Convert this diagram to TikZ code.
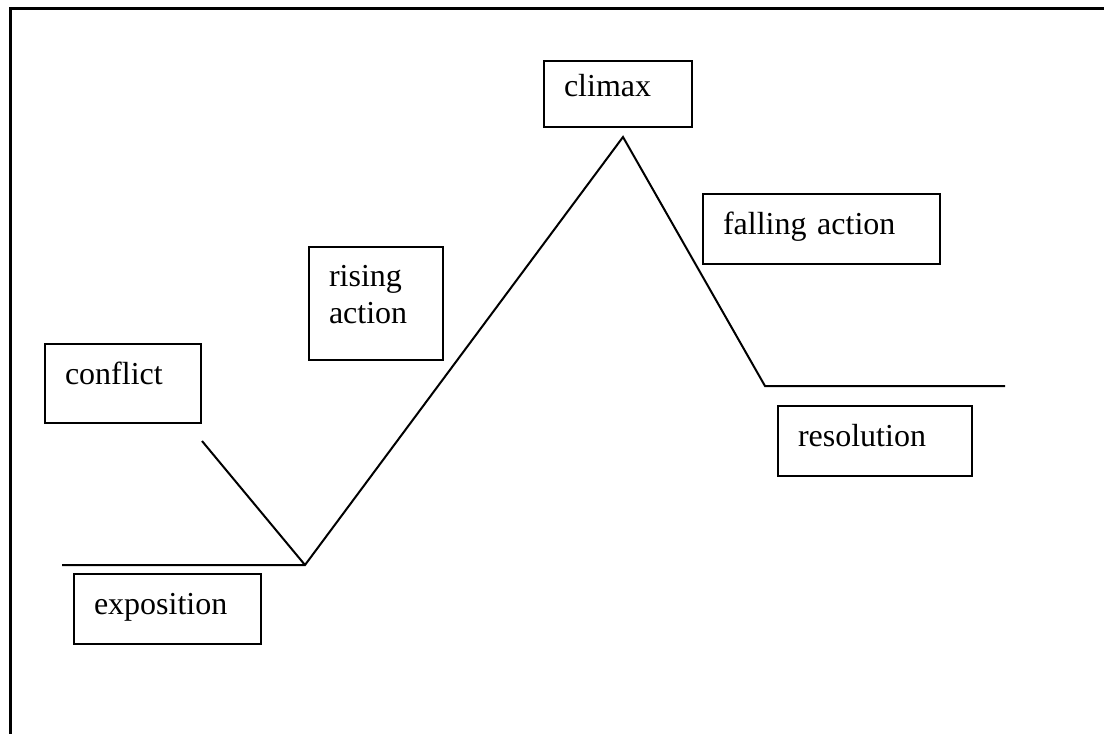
\documentclass[tikz,border=0pt]{standalone}
\usepackage{fontspec}
\setmainfont{Liberation Serif}

\tikzset{
  plotbox/.style={draw, line width=1pt, anchor=north west, align=left,
    inner xsep=10pt, inner ysep=0pt, text height=20pt, text depth=15pt,
    font=\fontsize{16}{18.5}\selectfont},
  plotline/.style={line width=1pt},
}

\begin{document}
\begin{tikzpicture}[x=0.5pt, y=-0.5pt]
    \useasboundingbox (0,0) rectangle (1104,734);
    % frame, open at right and bottom
    \draw[line width=1.5pt] (10,734) -- (10,8) -- (1104,8);

    \node[plotbox, text width=58pt, text depth=19.5pt] (conflict) at (44,343) {conflict};
    \node[plotbox, text width=73.5pt] (exposition) at (73,573) {exposition};
    \node[plotbox, text width=47pt, text height=19.5pt, text depth=37pt] (rising) at (308,246) {rising\\action};
    \node[plotbox, text width=54pt, text height=17.5pt, text depth=15.5pt] (climax) at (543,60) {climax};
    \node[plotbox, text width=98.5pt] (falling) at (702,193) {falling action};
    \node[plotbox, text width=77pt] (resolution) at (777,405) {resolution};

    % the plot line
    \coordinate (start) at (62,565);
    \coordinate (spark) at (202,441);
    \coordinate (low) at (305,565);
    \coordinate (peak) at (623,137);
    \coordinate (settle) at (765,386);
    \coordinate (end) at (1005,386);
    \draw[plotline] (start) -- (low) -- (peak) -- (settle) -- (end);
    \draw[plotline] (spark) -- (low);
  \end{tikzpicture}
\end{document}
